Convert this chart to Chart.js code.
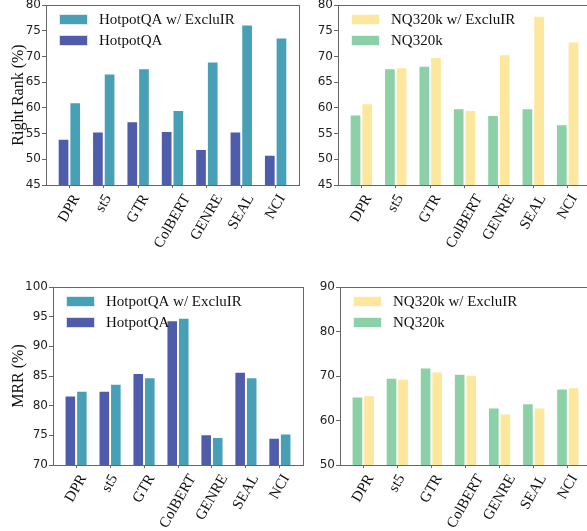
<!DOCTYPE html>
<html>
<head>
<meta charset="utf-8">
<script src="https://cdn.jsdelivr.net/npm/chart.js@4.4.0/dist/chart.umd.min.js"></script>
<style>
  html, body { margin: 0; padding: 0; background: #fff; overflow: hidden; }
  #wrap { position: relative; width: 587px; height: 531px; overflow: hidden; }
  canvas { position: absolute; }
</style>
</head>
<body>
<div id="wrap">
  <canvas id="rankHotpotCv"></canvas>
  <canvas id="rankNQCv"></canvas>
  <canvas id="mrrHotpotCv"></canvas>
  <canvas id="mrrNQCv"></canvas>
</div>
<script>
var models = ['DPR', 'st5', 'GTR', 'ColBERT', 'GENRE', 'SEAL', 'NCI'];

// Right Rank (%)
var rankHotpot   = [54.0, 55.4, 57.4, 55.5, 52.0, 55.4, 50.9];
var rankHotpotEx = [61.1, 66.7, 67.7, 59.6, 69.0, 76.2, 73.7];
var rankNQ       = [58.7, 67.7, 68.2, 59.9, 58.6, 59.9, 56.8];
var rankNQEx     = [60.9, 67.9, 69.9, 59.6, 70.4, 77.9, 72.9];

// MRR (%)
var mrrHotpot    = [81.7, 82.5, 85.5, 94.4, 75.2, 85.7, 74.6];
var mrrHotpotEx  = [82.5, 83.7, 84.8, 94.8, 74.7, 84.8, 75.3];
var mrrNQ        = [65.4, 69.6, 71.9, 70.5, 62.9, 63.9, 67.2];
var mrrNQEx      = [65.7, 69.4, 71.0, 70.3, 61.6, 62.9, 67.5];

var spine = '#666666';
var hotColors = ['#4e5ca9', '#47a0b5'];
var nqColors  = ['#8bd0a6', '#fde79c'];

// frame, legend inside the plot and centred rotated x labels (matplotlib look)
var decor = {
  id: 'decor',
  afterDraw: function (chart) {
    var ctx = chart.ctx;
    var a = chart.chartArea;
    var o = chart.options.plugins.decor;
    ctx.save();

    ctx.strokeStyle = spine;
    ctx.lineWidth = 1;
    ctx.strokeRect(Math.round(a.left) + 0.5, Math.round(a.top) + 0.5,
                   Math.round(a.right - a.left), Math.round(a.bottom - a.top));

    // legend: extended series on top
    var items = chart.data.datasets.slice().reverse();
    items.forEach(function (ds, i) {
      var x = Math.round(a.left) + 13;
      var y = Math.round(a.top) + 9 + i * 21;
      ctx.fillStyle = ds.backgroundColor;
      ctx.fillRect(x, y, 29, 11);
      ctx.strokeStyle = 'rgba(255,255,255,0.8)';
      ctx.strokeRect(x + 0.5, y + 0.5, 28, 10);
      ctx.fillStyle = '#111';
      ctx.font = '15px "Liberation Serif"';
      ctx.textAlign = 'left';
      ctx.textBaseline = 'middle';
      ctx.fillText(ds.label, x + 29 + 11, y + 6);
    });

    // x labels, rotated 60 deg, bounding box centred on the tick
    var xs = chart.scales.x;
    var fs = 15;
    ctx.font = fs + 'px "Liberation Serif"';
    ctx.fillStyle = '#111';
    ctx.textAlign = 'center';
    ctx.textBaseline = 'middle';
    var c = Math.cos(Math.PI / 3), s = Math.sin(Math.PI / 3);
    o.labels.forEach(function (lab, i) {
      var w = ctx.measureText(lab).width;
      var bh = w * s + fs * c;
      var px = xs.getPixelForValue(i);
      var py = a.bottom + 7 + bh / 2;
      ctx.save();
      ctx.translate(px, py);
      ctx.rotate(-Math.PI / 3);
      ctx.fillText(lab, 0, 0);
      ctx.restore();
    });

    ctx.restore();
  }
};

function makeChart(id, box, base, ext, names, colors, yMin, yMax, yStep, yTitle) {
  var cv = document.getElementById(id);
  cv.width = box.width;
  cv.height = box.height;
  cv.style.left = box.left + 'px';
  cv.style.top = box.top + 'px';
  cv.style.width = box.width + 'px';
  cv.style.height = box.height + 'px';

  function bars(vals) {
    return vals.map(function (v, i) { return { x: i, y: v }; });
  }

  return new Chart(cv, {
    type: 'bar',
    data: {
      datasets: [
        {
          label: names[0],
          data: bars(base),
          backgroundColor: colors[0],
          borderColor: 'rgba(255,255,255,0.75)',
          borderWidth: 1,
          categoryPercentage: 0.68,
          barPercentage: 1
        },
        {
          label: names[1],
          data: bars(ext),
          backgroundColor: colors[1],
          borderColor: 'rgba(255,255,255,0.75)',
          borderWidth: 1,
          categoryPercentage: 0.68,
          barPercentage: 1
        }
      ]
    },
    options: {
      responsive: false,
      animation: false,
      layout: { padding: { top: box.padTop, right: box.padRight, left: 0, bottom: 0 } },
      plugins: {
        legend: { display: false },
        tooltip: { enabled: false },
        decor: { labels: models }
      },
      scales: {
        x: {
          type: 'linear',
          min: -0.68,
          max: models.length - 1 + 0.68,
          offset: false,
          border: { display: false },
          grid: { drawOnChartArea: false, drawTicks: true, tickLength: 3, color: spine, offset: false },
          ticks: { display: false },
          afterBuildTicks: function (s) {
            s.ticks = models.map(function (m, i) { return { value: i }; });
          },
          afterFit: function (s) {
            s.height = box.xHeight;
            s.paddingLeft = 0; s.paddingRight = 0;
          }
        },
        y: {
          min: yMin,
          max: yMax,
          border: { display: false },
          grid: { drawOnChartArea: false, drawTicks: true, tickLength: 4, color: spine },
          ticks: {
            stepSize: yStep,
            padding: 1,
            color: '#222',
            font: { family: '"DejaVu Sans"', size: 12 }
          },
          title: {
            display: !!yTitle,
            text: yTitle,
            color: '#111',
            font: { family: '"Liberation Serif"', size: 16 },
            padding: { top: 9, bottom: 0 }
          },
          afterFit: function (s) {
            s.width = box.yWidth;
            s.paddingTop = 0; s.paddingBottom = 0;
          }
        }
      }
    },
    plugins: [decor]
  });
}

makeChart('rankHotpotCv',
  { left: 0, top: 0, width: 300, height: 270, padTop: 5, padRight: 1, yWidth: 46, xHeight: 85 },
  rankHotpot, rankHotpotEx, ['HotpotQA', 'HotpotQA w/ ExcluIR'], hotColors, 45, 80, 5, 'Right Rank (%)');

makeChart('rankNQCv',
  { left: 300, top: 0, width: 300, height: 270, padTop: 5, padRight: 9, yWidth: 38, xHeight: 85 },
  rankNQ, rankNQEx, ['NQ320k', 'NQ320k w/ ExcluIR'], nqColors, 45, 80, 5, '');

makeChart('mrrHotpotCv',
  { left: 0, top: 270, width: 305, height: 261, padTop: 17, padRight: 2, yWidth: 53, xHeight: 66 },
  mrrHotpot, mrrHotpotEx, ['HotpotQA', 'HotpotQA w/ ExcluIR'], hotColors, 70, 100, 5, 'MRR (%)');

makeChart('mrrNQCv',
  { left: 305, top: 270, width: 295, height: 261, padTop: 17, padRight: 9, yWidth: 35, xHeight: 66 },
  mrrNQ, mrrNQEx, ['NQ320k', 'NQ320k w/ ExcluIR'], nqColors, 50, 90, 10, '');
</script>
</body>
</html>
